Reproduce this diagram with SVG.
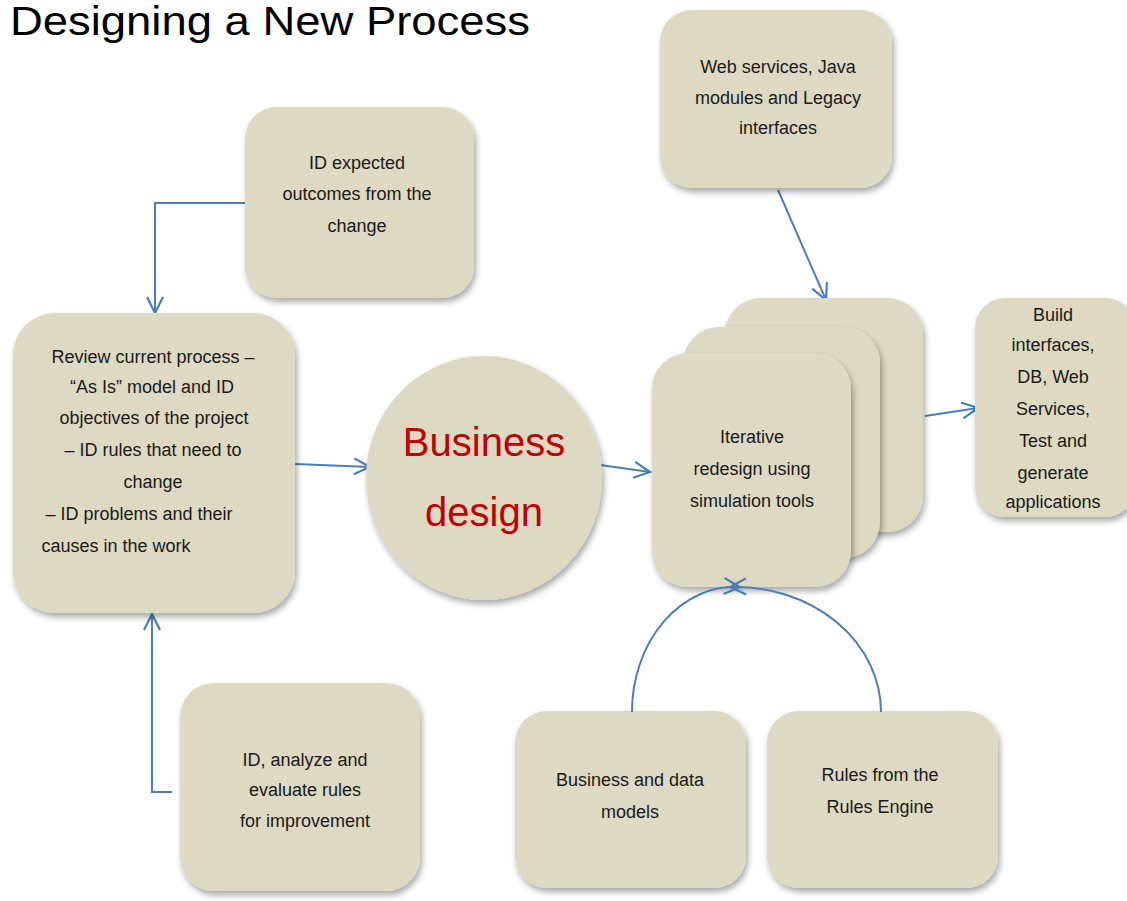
<svg xmlns="http://www.w3.org/2000/svg" width="1127" height="901" viewBox="0 0 1127 901">
<defs>
<filter id="sh" x="-10%" y="-10%" width="125%" height="125%">
<feDropShadow dx="2" dy="4" stdDeviation="3" flood-color="#000" flood-opacity="0.35"/>
</filter>
<marker id="ah" markerUnits="userSpaceOnUse" markerWidth="24" markerHeight="24" viewBox="0 0 24 24" refX="19" refY="12" orient="auto">
<path d="M3,4 L19,12 L3,20" fill="none" stroke="#4a7ebb" stroke-width="2.2"/>
</marker>
<style>
.box{fill:#ddd9c3;filter:url(#sh)}
.t{font-family:"Liberation Sans",Arial,sans-serif;font-size:18px;fill:#1a1a1a;text-anchor:middle}
.c{fill:none;stroke:#4a7ebb;stroke-width:2;marker-end:url(#ah)}
</style>
</defs>
<rect width="1127" height="901" fill="#fff"/>
<text x="10" y="35" font-family="Liberation Sans,Arial,sans-serif" font-size="40" fill="#000" textLength="520" lengthAdjust="spacingAndGlyphs">Designing a New Process</text>

<g id="connectors">
<path class="c" d="M245,203 H155 V313"/>
<path class="c" d="M172,792 H152 V614"/>
<path class="c" d="M295,464 L370,467"/>
<path class="c" d="M600,465 L650,472"/>
<path class="c" d="M925,416 L978,408"/>
<path class="c" d="M778,190 L826,300"/>
</g>

<g id="n-expected">
<rect class="box" x="245" y="107" width="229" height="191" rx="32"/>
<text class="t" x="357" y="169">ID expected</text>
<text class="t" x="357" y="200">outcomes from the</text>
<text class="t" x="357" y="232">change</text>
</g>

<g id="n-review">
<rect class="box" x="13" y="313" width="282" height="300" rx="42"/>
<text class="t" x="153" y="363">Review current process –</text>
<text class="t" x="152" y="393">“As Is” model and ID</text>
<text class="t" x="154" y="424">objectives of the project</text>
<text class="t" x="153" y="456">– ID rules that need to</text>
<text class="t" x="153" y="488">change</text>
<text class="t" x="139" y="520">– ID problems and their</text>
<text class="t" x="116" y="552">causes in the work</text>
</g>

<g id="n-business">
<ellipse class="box" cx="484" cy="478" rx="118" ry="122"/>
<text x="484" y="456" font-family="Liberation Sans,Arial,sans-serif" font-size="40" fill="#c00000" text-anchor="middle">Business</text>
<text x="484" y="526" font-family="Liberation Sans,Arial,sans-serif" font-size="40" fill="#c00000" text-anchor="middle">design</text>
</g>

<g id="n-web">
<rect class="box" x="660" y="10" width="232" height="178" rx="32"/>
<text class="t" x="778" y="73">Web services, Java</text>
<text class="t" x="778" y="104">modules and Legacy</text>
<text class="t" x="778" y="134">interfaces</text>
</g>

<g id="n-iterative">
<rect class="box" x="725" y="298" width="198" height="234" rx="36"/>
<rect class="box" x="683" y="327" width="197" height="231" rx="36"/>
<rect class="box" x="652" y="353" width="199" height="234" rx="36"/>
<text class="t" x="752" y="443">Iterative</text>
<text class="t" x="752" y="475">redesign using</text>
<text class="t" x="752" y="507">simulation tools</text>
</g>

<g id="n-build">
<rect class="box" x="975" y="298" width="160" height="219" rx="30"/>
<text class="t" x="1053" y="321">Build</text>
<text class="t" x="1053" y="351">interfaces,</text>
<text class="t" x="1053" y="383">DB, Web</text>
<text class="t" x="1053" y="415">Services,</text>
<text class="t" x="1053" y="447">Test and</text>
<text class="t" x="1053" y="479">generate</text>
<text class="t" x="1053" y="508">applications</text>
</g>

<g id="n-models">
<rect class="box" x="515" y="711" width="231" height="177" rx="32"/>
<text class="t" x="630" y="786">Business and data</text>
<text class="t" x="630" y="818">models</text>
</g>

<g id="n-rules">
<rect class="box" x="767" y="711" width="231" height="177" rx="32"/>
<text class="t" x="880" y="781">Rules from the</text>
<text class="t" x="880" y="813">Rules Engine</text>
</g>

<g id="n-analyze">
<rect class="box" x="180" y="683" width="240" height="208" rx="34"/>
<text class="t" x="305" y="766">ID, analyze and</text>
<text class="t" x="305" y="796">evaluate rules</text>
<text class="t" x="305" y="827">for improvement</text>
</g>

<g id="connectors-arcs">
<path class="c" d="M632,712 A103,125 0 0 1 740,587"/>
<path class="c" d="M881,712 A146,125 0 0 0 730,587"/>
</g>
</svg>
